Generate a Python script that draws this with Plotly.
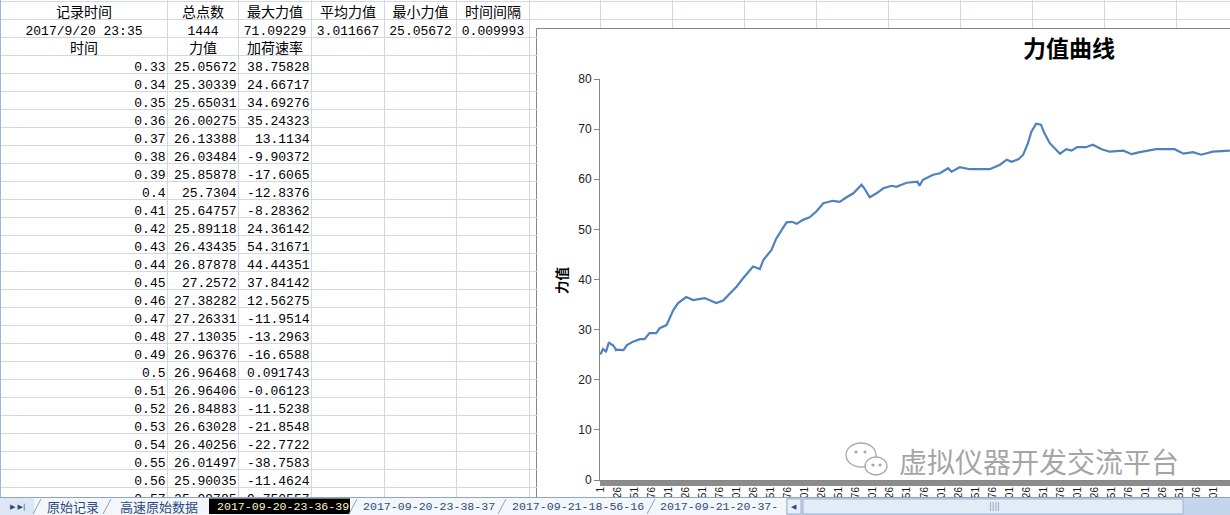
import plotly.graph_objects as go

W, H = 1230, 515

# ---------------- data ----------------
SUMMARY_HEADERS = ["记录时间", "总点数", "最大力值", "平均力值", "最小力值", "时间间隔"]
SUMMARY_VALUES = ["2017/9/20 23:35", "1444", "71.09229", "3.011667", "25.05672", "0.009993"]
COLUMN_TITLES = ["时间", "力值", "加荷速率"]

TIME_S = [0.33, 0.34, 0.35, 0.36, 0.37, 0.38, 0.39, 0.4, 0.41, 0.42, 0.43, 0.44, 0.45,
          0.46, 0.47, 0.48, 0.49, 0.5, 0.51, 0.52, 0.53, 0.54, 0.55, 0.56, 0.57]
FORCE_TABLE = [25.05672, 25.30339, 25.65031, 26.00275, 26.13388, 26.03484, 25.85878, 25.7304,
               25.64757, 25.89118, 26.43435, 26.87878, 27.2572, 27.38282, 27.26331, 27.13035,
               26.96376, 26.96468, 26.96406, 26.84883, 26.63028, 26.40256, 26.01497, 25.90035,
               25.99785]
RATE_TABLE = [38.75828, 24.66717, 34.69276, 35.24323, 13.1134, -9.90372, -17.6065, -12.8376,
              -8.28362, 24.36142, 54.31671, 44.44351, 37.84142, 12.56275, -11.9514, -13.2963,
              -16.6588, 0.091743, -0.06123, -11.5238, -21.8548, -22.7722, -38.7583, -11.4624,
              9.750557]

# force curve beyond the tabulated rows (point number)
CURVE_IDX = [35, 40, 49, 59, 66, 73, 83, 88, 98, 108, 115, 127, 137, 154, 171, 181, 191, 201,
             210, 217, 225, 235, 240, 252, 259, 267, 274, 282, 289, 298, 308, 318, 328, 342,
             352, 362, 372, 384, 388, 396, 406, 416, 428, 435, 450, 466, 469, 474, 489, 499,
             511, 516, 528, 543, 557, 572, 587, 597, 604, 614, 621, 628, 633, 640, 647, 652,
             660, 667, 675, 684, 692, 700, 713, 723, 736, 748, 768, 780, 792, 816, 831, 843,
             856, 870, 882, 899, 924]
CURVE_VAL = [25.9, 26.9, 27.6, 28.1, 28.1, 29.3, 29.3, 30.3, 30.9, 33.9, 35.3, 36.5, 35.9,
             36.3, 35.3, 35.8, 37.3, 38.6, 40.2, 41.3, 42.6, 42.1, 43.9, 45.9, 48.2, 49.9,
             51.4, 51.5, 51.1, 51.9, 52.4, 53.6, 55.2, 55.7, 55.5, 56.4, 57.2, 58.9, 58.2,
             56.4, 57.2, 58.2, 58.7, 58.5, 59.3, 59.5, 58.7, 59.9, 60.9, 61.2, 62.2, 61.5,
             62.4, 62.0, 62.0, 62.0, 62.9, 63.9, 63.5, 64.0, 64.9, 67.2, 69.5, 71.09229, 70.9,
             69.2, 67.2, 66.2, 65.1, 66.0, 65.7, 66.4, 66.4, 66.9, 66.0, 65.5, 65.7, 65.0,
             65.4, 66.0, 66.0, 66.0, 65.1, 65.4, 64.9, 65.5, 65.7]

X_TICK_START, X_TICK_STEP, X_TICK_LAST = 1, 25, 901
SHEET_TABS = ["原始记录", "高速原始数据", "2017-09-20-23-36-39", "2017-09-20-23-38-37",
              "2017-09-21-18-56-16", "2017-09-21-20-37-"]
CHART_TITLE = "力值曲线"
Y_TITLE = "力值"
WATERMARK = "虚拟仪器开发交流平台"

# ---------------- layout constants (window pixels) ----------------
COL_EDGES = [0.5, 167.5, 238.5, 311.5, 384.5, 456.5, 529.5]
TOP_COL_EDGES = [600.5, 672.5, 744.5, 816.5, 888.5, 960.5, 1032.5, 1104.5, 1176.5]
ROW_TOP, ROW_H, N_ROWS = 1.5, 18, 28
ROW_EDGES = [ROW_TOP + ROW_H * k for k in range(N_ROWS + 1)]
CJK_DROP, NUM_DROP = 3.0, 3.5      # cells are bottom-aligned as in the spreadsheet
PX_PER_POINT = 0.682
PLOT_L, PLOT_TOP, PLOT_BOT = 600, 79, 480
FRAME_L, FRAME_T = 536.5, 28.5
BAR_TOP, BAR_MID = 497, 506.5
GRID = "#D0D7E5"
MONO = "Liberation Mono, Noto Sans CJK SC"
CJK = "Noto Sans CJK SC"


def px(x):
    return min(max(x, 0), W) / W


def py(y):
    return 1 - min(max(y, 0), H) / H


def row_c(r):  # centre of spreadsheet row r (1-based)
    return ROW_TOP + ROW_H * (r - 1) + ROW_H / 2


col_center = [(COL_EDGES[i] + COL_EDGES[i + 1]) / 2 for i in range(6)]
col_right = [COL_EDGES[i + 1] - 2 for i in range(6)]

fig = go.Figure()

# ---- the force curve ----
xs = list(range(1, len(FORCE_TABLE) + 1)) + CURVE_IDX
ys = FORCE_TABLE + CURVE_VAL
fig.add_trace(go.Scatter(x=xs, y=ys, mode="lines", line=dict(color="#4F81BD", width=2.2),
                         hoverinfo="skip", xaxis="x", yaxis="y"))

# ---- spreadsheet text ----
cjk_x = col_center[:6] + col_center[:3]
cjk_y = [row_c(1) + CJK_DROP] * 6 + [row_c(3) + CJK_DROP] * 3
fig.add_trace(go.Scatter(x=cjk_x, y=cjk_y, text=SUMMARY_HEADERS + COLUMN_TITLES, mode="text",
                         textposition="middle center", cliponaxis=False,
                         textfont=dict(family=CJK, size=14, color="#000000"),
                         hoverinfo="skip", xaxis="x2", yaxis="y2"))
fig.add_trace(go.Scatter(x=col_center[:6], y=[row_c(2) + NUM_DROP] * 6, text=SUMMARY_VALUES,
                         mode="text", textposition="middle center", cliponaxis=False,
                         textfont=dict(family=MONO, size=13, color="#000000"),
                         hoverinfo="skip", xaxis="x2", yaxis="y2"))

num_x, num_y, num_t = [], [], []
for i, (t, f, r) in enumerate(zip(TIME_S, FORCE_TABLE, RATE_TABLE)):
    yy = row_c(4 + i) + NUM_DROP
    for c, v in enumerate((f"{t:g}", f"{f:.7g}", f"{r:.7g}")):
        num_x.append(col_right[c])
        num_y.append(yy)
        num_t.append(v)
fig.add_trace(go.Scatter(x=num_x, y=num_y, text=num_t, mode="text",
                         textposition="middle left", cliponaxis=True,
                         textfont=dict(family=MONO, size=13, color="#000000"),
                         hoverinfo="skip", xaxis="x2", yaxis="y2"))

# invisible anchor for the grid strip above the chart
fig.add_trace(go.Scatter(x=[700], y=[10], mode="markers", marker=dict(opacity=0),
                         hoverinfo="skip", xaxis="x3", yaxis="y3"))

grid_axis = dict(showticklabels=False, ticks="", showline=False, zeroline=False,
                 showgrid=True, gridcolor=GRID, gridwidth=1, tickmode="array", fixedrange=True)

fig.update_layout(
    width=W, height=H, margin=dict(l=0, r=0, t=0, b=0, autoexpand=False), autosize=False,
    paper_bgcolor="white", plot_bgcolor="rgba(0,0,0,0)", showlegend=False,
    xaxis=dict(domain=[px(PLOT_L), 1],
               range=[0.5, 0.5 + (W - PLOT_L) / PX_PER_POINT], anchor="y",
               showline=True, linecolor="#868686", linewidth=1,
               tickmode="array",
               tickvals=list(range(X_TICK_START, X_TICK_LAST + 1, X_TICK_STEP)),
               ticktext=[str(v) for v in range(X_TICK_START, X_TICK_LAST + 1, X_TICK_STEP)],
               tickangle=-90, ticks="outside", ticklen=2, tickcolor="#8c8c8c",
               tickfont=dict(family="Liberation Sans", size=10, color="#1a1a1a"),
               minor=dict(tickmode="linear", tick0=1, dtick=1, ticks="outside", ticklen=5,
                          tickcolor="#8c8c8c", tickwidth=1, showgrid=False),
               showgrid=False, zeroline=False, fixedrange=True),
    yaxis=dict(domain=[py(PLOT_BOT), py(PLOT_TOP)], range=[0, 80], anchor="x",
               tickmode="linear", tick0=0, dtick=10,
               showline=True, linecolor="#868686", linewidth=1,
               ticks="outside", ticklen=5, tickcolor="#868686",
               tickfont=dict(family="Liberation Sans", size=12, color="#1a1a1a"),
               showgrid=False, zeroline=False, fixedrange=True),
    xaxis2=dict(domain=[0, px(FRAME_L + 0.5)], range=[0, FRAME_L + 0.5], anchor="y2",
                tickvals=COL_EDGES, **grid_axis),
    yaxis2=dict(domain=[0, 1], range=[H, 0], anchor="x2", tickvals=ROW_EDGES, **grid_axis),
    xaxis3=dict(domain=[px(FRAME_L + 0.5), 1], range=[FRAME_L + 0.5, W], anchor="y3",
                tickvals=TOP_COL_EDGES, **grid_axis),
    yaxis3=dict(domain=[py(FRAME_T - 0.5), 1], range=[FRAME_T - 0.5, 0], anchor="x3",
                tickvals=ROW_EDGES[:2], **grid_axis),
)


def rect(x0, y0, x1, y1, fill, line=None, layer="above"):
    return dict(type="rect", xref="paper", yref="paper", x0=px(x0), y0=py(y0), x1=px(x1),
                y1=py(y1), fillcolor=fill,
                line=dict(color=line, width=1) if line else dict(width=0), layer=layer)


def hline(x0, x1, y, color, layer="above"):
    return dict(type="line", xref="paper", yref="paper", x0=px(x0), x1=px(x1), y0=py(y),
                y1=py(y), line=dict(color=color, width=1), layer=layer)


def vline(x, y0, y1, color, layer="above"):
    return dict(type="line", xref="paper", yref="paper", x0=px(x), x1=px(x), y0=py(y0),
                y1=py(y1), line=dict(color=color, width=1), layer=layer)


shapes = []
# chart object frame (kept inside the page)
shapes.append(rect(FRAME_L, FRAME_T, W, H, "white", None, "below"))
shapes.append(vline(FRAME_L, FRAME_T, H, "#868686", "below"))
shapes.append(hline(FRAME_L, W, FRAME_T, "#868686", "below"))
# row-header border at the far left
shapes.append(vline(0.5, 0, BAR_TOP, "#9EB6CE"))

# sheet tab bar
shapes.append(rect(0, BAR_TOP, W, H, "#F3F6FB"))
shapes.append(hline(0, W, BAR_TOP + 0.5, "#8EA4C1"))
shapes.append(rect(0, BAR_TOP + 1, 34, H, "#DCE6F4"))
TAB_SPANS = [(36, 104), (106, 206), (209, 350), (352, 500), (501, 648), (650, 786)]
for k, (a, b) in enumerate(TAB_SPANS):
    if k == 2:
        shapes.append(rect(a, BAR_TOP + 1.5, b, H - 1, "#000000"))
    else:
        shapes.append(dict(type="line", xref="paper", yref="paper", x0=px(a - 3), x1=px(a + 5),
                           y0=py(514), y1=py(BAR_TOP + 2), line=dict(color="#8EA4C1", width=1),
                           layer="above"))
# horizontal scrollbar
shapes.append(rect(786, BAR_TOP + 1, W, H, "#C5D6EC"))
shapes.append(rect(787, BAR_TOP + 2, 801, 514, "#E8EFF8", "#9DB3D0"))
shapes.append(rect(803, BAR_TOP + 2, 1183, 514, "#E3EBF6", "#9DB3D0"))
# WeChat-style watermark icon
for (cx, cy, rx, ry) in [(861, 455, 15, 12), (876, 466, 11, 9)]:
    shapes.append(dict(type="circle", xref="paper", yref="paper", x0=px(cx - rx), x1=px(cx + rx),
                       y0=py(cy - ry), y1=py(cy + ry), fillcolor="rgba(255,255,255,0.9)",
                       line=dict(color="#a8a8a8", width=1.3), layer="above"))
for (cx, cy) in [(856, 452), (865, 452), (873, 465), (880, 465)]:
    shapes.append(dict(type="circle", xref="paper", yref="paper", x0=px(cx - 1.6),
                       x1=px(cx + 1.6), y0=py(cy - 1.6), y1=py(cy + 1.6),
                       fillcolor="#a8a8a8", line=dict(width=0), layer="above"))
fig.update_layout(shapes=shapes)


def note(text, x, y, font, xanchor="center", **kw):
    return dict(text=text, x=px(x), y=py(y), xref="paper", yref="paper", showarrow=False,
                xanchor=xanchor, yanchor="middle", font=font, **kw)


ann = [
    note("<b>" + CHART_TITLE + "</b>", 1069, 47, dict(family=CJK, size=23, color="#000000")),
    note("<b>" + Y_TITLE + "</b>", 561, 280, dict(family=CJK, size=13.5, color="#000000"),
         textangle=-90),
    note(WATERMARK, 1039, 461, dict(family=CJK, size=28, color="rgba(140,140,140,0.8)")),
]
for k, name in enumerate(SHEET_TABS):
    a, b = TAB_SPANS[k]
    is_cjk = k < 2
    color = "#FFF5C0" if k == 2 else "#2B4C80"
    font = dict(family=CJK if is_cjk else MONO, size=13 if is_cjk else 11.6, color=color)
    if k == len(SHEET_TABS) - 1:
        ann.append(note(name, a + 8, BAR_MID, font, xanchor="left"))
    else:
        ann.append(note(name, (a + b) / 2 + 3, BAR_MID, font))
ann.append(note("▶ ▶|", 17, BAR_MID, dict(family="DejaVu Sans", size=7, color="#2B4C80")))
ann.append(note("◀", 794, BAR_MID, dict(family="DejaVu Sans", size=7, color="#2B4C80")))
ann.append(note("||||", 994, BAR_MID, dict(family="DejaVu Sans", size=8, color="#7A93B8")))
fig.update_layout(annotations=ann)

# remove the page's default body margin so the figure fills the window exactly
POST = ("document.documentElement.style.margin='0';document.body.style.margin='0';"
        "document.body.style.padding='0';document.body.style.overflow='hidden';"
        "document.documentElement.style.overflow='hidden';")
fig.write_html("out.html", post_script=POST, config={"displayModeBar": False})
